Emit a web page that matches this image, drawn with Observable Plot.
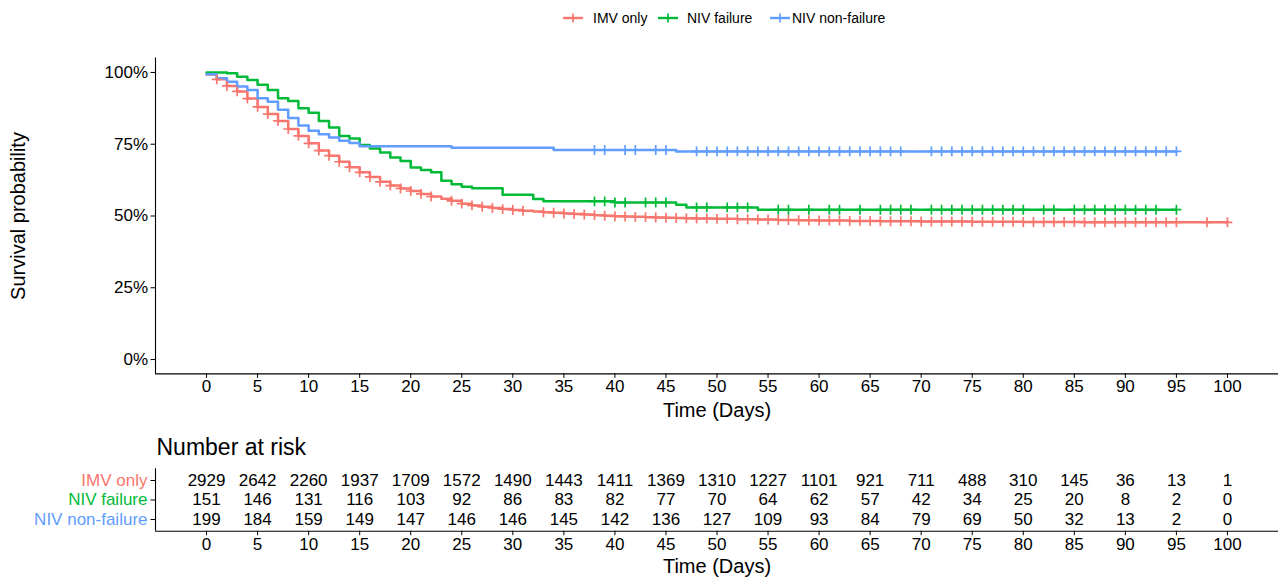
<!DOCTYPE html>
<html><head><meta charset="utf-8">
<script src="https://cdn.jsdelivr.net/npm/d3@7"></script>
<script src="https://cdn.jsdelivr.net/npm/@observablehq/plot@0.6"></script>
<style>
body{margin:0;background:#fff;font-family:"Liberation Sans",Arial,sans-serif;}
#wrap{position:relative;width:1279px;height:581px;overflow:hidden;background:#fff;}
#legend{position:absolute;left:0;top:0;width:1279px;height:36px;}
.li{position:absolute;top:8px;height:20px;display:flex;align-items:center;font-size:14px;color:#000;white-space:nowrap;}
#main{position:absolute;left:0;top:40px;}
#table{position:absolute;left:0;top:425px;}
</style></head>
<body><div id="wrap"><div id="legend"></div><div id="main"></div><div id="table"></div></div>
<script>
const groups = ["IMV only", "NIV failure", "NIV non-failure"];
const colors = ["#F8766D", "#00BA38", "#619CFF"];

// Kaplan-Meier step curves (time in days, survival in %)
const imvTime = [0,1,2,3,4,5,6,7,8,9,10,11,12,13,14,15,16,17,18,19,20,21,22,23,24,25,26,27,28,29,30,31,32,33,34,35,36,37,38,39,40,41,42,43,44,45,46,47,48,50,52,54,56,58,60,63,66,70,75,80,86,100];
const imvSurv = [99.3,97.6,95.3,93.4,90.9,88.0,85.5,83.1,80.3,77.9,75.3,72.8,71.0,68.9,67.0,65.2,63.6,61.9,60.6,59.6,58.7,57.7,56.8,56.0,55.3,54.3,53.7,53.2,52.8,52.4,52.1,51.8,51.6,51.3,51.1,50.9,50.7,50.5,50.3,50.1,49.9,49.8,49.7,49.6,49.5,49.4,49.3,49.2,49.1,49.0,48.9,48.8,48.6,48.5,48.4,48.3,48.2,48.1,48.0,47.9,47.8,47.8];

const nivfTime = [0,2,3,4,5,6,7,8,9,10,11,12,13,14,15,16,17,18,19,20,21,22,23,24,25,26,29,32,33,40,46,47,54,95];
const nivfSurv = [100,99.7,98.5,97.4,95.7,93.9,91.0,90.1,87.5,86.0,83.1,80.8,77.9,77.0,74.7,73.5,72.1,70.4,69.2,66.9,66.0,65.2,62.3,61.1,60.2,59.7,57.4,55.9,55.1,54.7,53.9,53.0,52.2,52.2];

const nivnTime = [0,1,2,3,4,5,6,7,8,9,10,11,12,13,14,15,24,34,46,95];
const nivnSurv = [99.4,98.0,96.8,95.1,93.9,91.0,89.8,87.0,84.1,81.5,79.7,78.5,77.3,76.2,75.4,74.3,73.8,73.0,72.5,72.5];

// Censoring times (days)
const imvCensor = [1,2,3,4,5,6,7,8,9,10,11,12,13,14,15,16,17,18,19,20,21,22,24,25,26,27,28,29,30,31,33,34,35,36,37,38,39,40,41,42,43,44,45,46,47,48,49,50,51,52,53,54,55,56,57,58,59,60,61,62,63,64,65,66,67,68,69,70,71,72,73,74,75,76,77,78,79,80,81,82,83,84,85,86,87,88,89,90,91,92,93,94,95,98,100];
const nivfCensor = [38,39,40,41,43,44,45,48,49,51,52,53,56,57,59,61,62,64,66,67,68,69,71,72,73,74,75,76,77,78,79,80,82,83,85,86,87,88,89,90,91,92,93,95];
const nivnCensor = [38,39,41,42,44,45,48,49,50,51,52,53,54,55,56,57,58,59,60,61,62,63,64,65,66,67,68,71,72,73,74,75,76,77,78,79,80,81,82,83,84,85,86,87,88,89,90,91,92,93,94,95];

// Number at risk table
const riskTimes = [0,5,10,15,20,25,30,35,40,45,50,55,60,65,70,75,80,85,90,95,100];
const riskIMV  = [2929,2642,2260,1937,1709,1572,1490,1443,1411,1369,1310,1227,1101,921,711,488,310,145,36,13,1];
const riskNIVf = [151,146,131,116,103,92,86,83,82,77,70,64,62,57,42,34,25,20,8,2,0];
const riskNIVn = [199,184,159,149,147,146,146,145,142,136,127,109,93,84,79,69,50,32,13,2,0];

const xTicks = [0,5,10,15,20,25,30,35,40,45,50,55,60,65,70,75,80,85,90,95,100];
const yTicks = [0,25,50,75,100];

// ---- build tables ----
const series = [
  {g: groups[0], t: imvTime, s: imvSurv, c: imvCensor, r: riskIMV},
  {g: groups[1], t: nivfTime, s: nivfSurv, c: nivfCensor, r: riskNIVf},
  {g: groups[2], t: nivnTime, s: nivnSurv, c: nivnCensor, r: riskNIVn}
];
const survAt = (t, s, x) => s[Math.max(0, d3.bisectRight(t, x) - 1)];
const lineData = series.flatMap(S => S.t.map((t, i) => ({group: S.g, time: t, surv: S.s[i]})));
const censorData = series.flatMap(S => S.c.map(x => ({group: S.g, time: x, surv: survAt(S.t, S.s, x)})));
const riskData = series.flatMap((S, k) => riskTimes.map((t, i) => ({group: S.g, row: k + 1, time: t, n: S.r[i]})));

const font = '"Liberation Sans", Arial, sans-serif';
const colorScale = {domain: groups, range: colors};

// ---- legend ----
const legendPos = [[562, 593], [657, 687], [769, 792]];
const leg = document.getElementById("legend");
groups.forEach((g, i) => {
  const d = document.createElement("div");
  d.className = "li";
  d.style.left = legendPos[i][0] + "px";
  d.innerHTML = `<svg width="22" height="14" style="margin-right:${legendPos[i][1]-legendPos[i][0]-22}px"><line x1="1" x2="21" y1="7" y2="7" stroke="${colors[i]}" stroke-width="2.4"/><line x1="11" x2="11" y1="2.5" y2="11.5" stroke="${colors[i]}" stroke-width="1.7"/></svg><span>${g}</span>`;
  leg.appendChild(d);
});

// ---- main survival plot ----
const main = Plot.plot({
  width: 1279, height: 385,
  marginLeft: 155, marginRight: 1, marginTop: 17.6, marginBottom: 51.6,
  style: {fontFamily: font, fontSize: "17px", color: "black", background: "white", overflow: "visible"},
  x: {domain: [-5, 105]},
  y: {domain: [-5, 105]},
  color: colorScale,
  marks: [
    Plot.axisX({ticks: xTicks, tickSize: 4.5, tickPadding: 2, label: null, fontSize: 17}),
    Plot.axisY({ticks: yTicks, tickSize: 4.5, tickPadding: 3, tickFormat: d => d + "%", label: null, fontSize: 17}),
    Plot.ruleX([-5], {stroke: "black", strokeWidth: 1.1}),
    Plot.ruleY([-5], {stroke: "black", strokeWidth: 1.1}),
    Plot.line(lineData, {x: "time", y: "surv", z: "group", stroke: "group", curve: "step-after", strokeWidth: 2.5}),
    Plot.dot(censorData, {x: "time", y: "surv", stroke: "group", symbol: "plus", r: 3.3, strokeWidth: 1.7}),
    Plot.text(["Time (Days)"], {text: d => d, frameAnchor: "bottom", lineAnchor: "middle", textAnchor: "middle", dy: 37, fontSize: 20, fill: "black"}),
    Plot.text(["Survival probability"], {text: d => d, frameAnchor: "left", textAnchor: "middle", lineAnchor: "middle", dx: -137, rotate: -90, fontSize: 20, fill: "black"})
  ]
});
document.getElementById("main").appendChild(main);

// ---- number at risk table ----
const table = Plot.plot({
  width: 1279, height: 156,
  marginLeft: 155, marginRight: 1, marginTop: 43.3, marginBottom: 50.3,
  style: {fontFamily: font, fontSize: "17px", color: "black", background: "white", overflow: "visible"},
  x: {domain: [-5, 105]},
  y: {domain: [3.6, 0.4]},
  color: colorScale,
  marks: [
    Plot.axisX({ticks: xTicks, tickSize: 4.5, tickPadding: 2, label: null, fontSize: 17}),
    Plot.axisY({ticks: [1, 2, 3], tickSize: 4.5, tickFormat: () => "", label: null}),
    Plot.ruleX([-5], {stroke: "black", strokeWidth: 1.1}),
    Plot.ruleY([3.6], {stroke: "black", strokeWidth: 1.1}),
    Plot.text(riskData, {x: "time", y: "row", text: d => String(d.n), fontSize: 17, fill: "black"}),
    Plot.text(groups, {y: (d, i) => i + 1, text: d => d, fill: d => d, frameAnchor: "left", lineAnchor: "middle", dx: -8, textAnchor: "end", fontSize: 17}),
    Plot.text(["Number at risk"], {text: d => d, frameAnchor: "top-left", lineAnchor: "middle", dy: -21.3, dx: 1, textAnchor: "start", fontSize: 23, fill: "black"}),
    Plot.text(["Time (Days)"], {text: d => d, frameAnchor: "bottom", lineAnchor: "middle", textAnchor: "middle", dy: 35, fontSize: 20, fill: "black"})
  ]
});
document.getElementById("table").appendChild(table);
</script>
</body></html>
